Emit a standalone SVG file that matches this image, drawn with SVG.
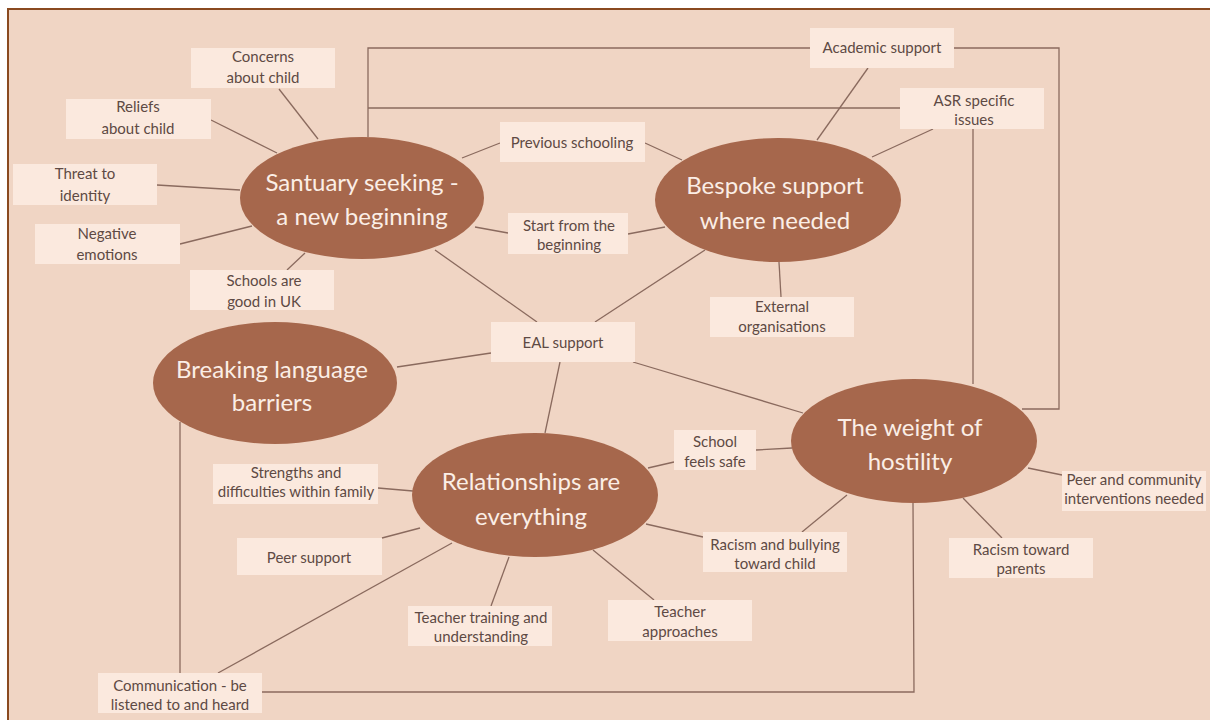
<svg xmlns="http://www.w3.org/2000/svg" width="1210" height="720" viewBox="0 0 1210 720">
<style>
.bg{fill:#f0d5c4;stroke:#8a4a20;stroke-width:2}
.hub{fill:#a6674c}
.hubt{font-family:Lato,"Open Sans",sans-serif;font-size:24px;fill:#fbeee6;text-anchor:middle}
.box{fill:#fbe9de}
.bt{font-family:Lato,"Open Sans",sans-serif;font-size:15px;fill:#5e4a44;text-anchor:middle}
.c line,.c polyline{stroke:#8a6a5e;stroke-width:1.3;fill:none}
</style>
<rect x="0" y="0" width="1210" height="720" fill="#ffffff"/>
<rect class="bg" x="8" y="9" width="1220" height="730"/>
<g class="c" id="connectors">
<line x1="279" y1="89" x2="318" y2="139"/>
<line x1="211" y1="120" x2="277" y2="153"/>
<line x1="157" y1="185" x2="240" y2="190"/>
<line x1="180" y1="244" x2="252" y2="226"/>
<line x1="287" y1="270" x2="305" y2="253"/>
<line x1="462" y1="158" x2="500" y2="143"/>
<line x1="645" y1="143" x2="682" y2="160"/>
<line x1="475" y1="227" x2="508" y2="233"/>
<line x1="628" y1="234" x2="665" y2="227"/>
<line x1="435" y1="250" x2="537" y2="322"/>
<line x1="705" y1="250" x2="595" y2="322"/>
<line x1="779" y1="262" x2="781" y2="297"/>
<line x1="817" y1="140" x2="868" y2="68"/>
<line x1="872" y1="157" x2="933" y2="129"/>
<polyline points="368,137 368,48 810,48"/>
<line x1="368" y1="108" x2="900" y2="108"/>
<polyline points="954,48 1059,48 1059,409 1022,409"/>
<line x1="973" y1="129" x2="973" y2="384"/>
<line x1="397" y1="367" x2="491" y2="353"/>
<line x1="560" y1="362" x2="545" y2="433"/>
<line x1="633" y1="362" x2="803" y2="413"/>
<line x1="648" y1="468" x2="674" y2="462"/>
<line x1="756" y1="450" x2="792" y2="448"/>
<line x1="646" y1="524" x2="703" y2="537"/>
<line x1="802" y1="532" x2="847" y2="495"/>
<line x1="1028" y1="468" x2="1062" y2="475"/>
<line x1="963" y1="498" x2="1002" y2="538"/>
<polyline points="913,503 914,692 262,692"/>
<line x1="593" y1="550" x2="654" y2="600"/>
<line x1="509" y1="557" x2="491" y2="606"/>
<line x1="378" y1="488" x2="413" y2="491"/>
<line x1="382" y1="538" x2="420" y2="528"/>
<line x1="218" y1="673" x2="452" y2="543"/>
<line x1="180" y1="422" x2="180" y2="673"/>
</g>
<g id="santuary"><ellipse class="hub" cx="362" cy="198" rx="122" ry="61"/><text class="hubt" x="362" y="191">Santuary seeking -</text><text class="hubt" x="362" y="225">a new beginning</text></g>
<g id="bespoke"><ellipse class="hub" cx="778" cy="200" rx="123" ry="62"/><text class="hubt" x="775" y="194">Bespoke support</text><text class="hubt" x="775" y="229">where needed</text></g>
<g id="breaking"><ellipse class="hub" cx="275" cy="383" rx="122" ry="61"/><text class="hubt" x="272" y="378">Breaking language</text><text class="hubt" x="272" y="411">barriers</text></g>
<g id="relationships"><ellipse class="hub" cx="535" cy="495" rx="123" ry="62"/><text class="hubt" x="531" y="490">Relationships are</text><text class="hubt" x="531" y="525">everything</text></g>
<g id="weight"><ellipse class="hub" cx="914" cy="441" rx="123" ry="62"/><text class="hubt" x="910" y="436">The weight of</text><text class="hubt" x="910" y="470">hostility</text></g>
<g id="concerns"><rect class="box" x="191" y="48" width="144" height="40"/><text class="bt" x="263" y="62">Concerns</text><text class="bt" x="263" y="83">about child</text></g>
<g id="reliefs"><rect class="box" x="66" y="99" width="145" height="40"/><text class="bt" x="138" y="112">Reliefs</text><text class="bt" x="138" y="134">about child</text></g>
<g id="threat"><rect class="box" x="13" y="164" width="144" height="41"/><text class="bt" x="85" y="179">Threat to</text><text class="bt" x="85" y="201">identity</text></g>
<g id="negative"><rect class="box" x="35" y="224" width="145" height="40"/><text class="bt" x="107" y="239">Negative</text><text class="bt" x="107" y="260">emotions</text></g>
<g id="schools"><rect class="box" x="190" y="270" width="144" height="40"/><text class="bt" x="264" y="286">Schools are</text><text class="bt" x="264" y="307">good in UK</text></g>
<g id="previous"><rect class="box" x="500" y="122" width="145" height="40"/><text class="bt" x="572" y="148">Previous schooling</text></g>
<g id="start"><rect class="box" x="508" y="213" width="120" height="41"/><text class="bt" x="569" y="231">Start from the</text><text class="bt" x="569" y="250">beginning</text></g>
<g id="academic"><rect class="box" x="810" y="28" width="144" height="40"/><text class="bt" x="882" y="53">Academic support</text></g>
<g id="asr"><rect class="box" x="900" y="88" width="144" height="41"/><text class="bt" x="974" y="106">ASR specific</text><text class="bt" x="974" y="125">issues</text></g>
<g id="external"><rect class="box" x="710" y="297" width="144" height="40"/><text class="bt" x="782" y="312">External</text><text class="bt" x="782" y="332">organisations</text></g>
<g id="eal"><rect class="box" x="491" y="322" width="144" height="40"/><text class="bt" x="563" y="348">EAL support</text></g>
<g id="strengths"><rect class="box" x="213" y="464" width="165" height="40"/><text class="bt" x="296" y="478">Strengths and</text><text class="bt" x="296" y="497">difficulties within family</text></g>
<g id="peer"><rect class="box" x="237" y="538" width="145" height="37"/><text class="bt" x="309" y="563">Peer support</text></g>
<g id="communication"><rect class="box" x="98" y="673" width="164" height="40"/><text class="bt" x="180" y="691">Communication - be</text><text class="bt" x="180" y="710">listened to and heard</text></g>
<g id="safe"><rect class="box" x="674" y="430" width="82" height="40"/><text class="bt" x="715" y="447">School</text><text class="bt" x="715" y="467">feels safe</text></g>
<g id="bullying"><rect class="box" x="703" y="532" width="144" height="40"/><text class="bt" x="775" y="550">Racism and bullying</text><text class="bt" x="775" y="569">toward child</text></g>
<g id="training"><rect class="box" x="408" y="606" width="144" height="40"/><text class="bt" x="481" y="623">Teacher training and</text><text class="bt" x="481" y="642">understanding</text></g>
<g id="approaches"><rect class="box" x="608" y="600" width="144" height="41"/><text class="bt" x="680" y="617">Teacher</text><text class="bt" x="680" y="637">approaches</text></g>
<g id="community"><rect class="box" x="1062" y="471" width="144" height="40"/><text class="bt" x="1134" y="485">Peer and community</text><text class="bt" x="1134" y="504">interventions needed</text></g>
<g id="parents"><rect class="box" x="949" y="538" width="144" height="40"/><text class="bt" x="1021" y="555">Racism toward</text><text class="bt" x="1021" y="574">parents</text></g>
</svg>
